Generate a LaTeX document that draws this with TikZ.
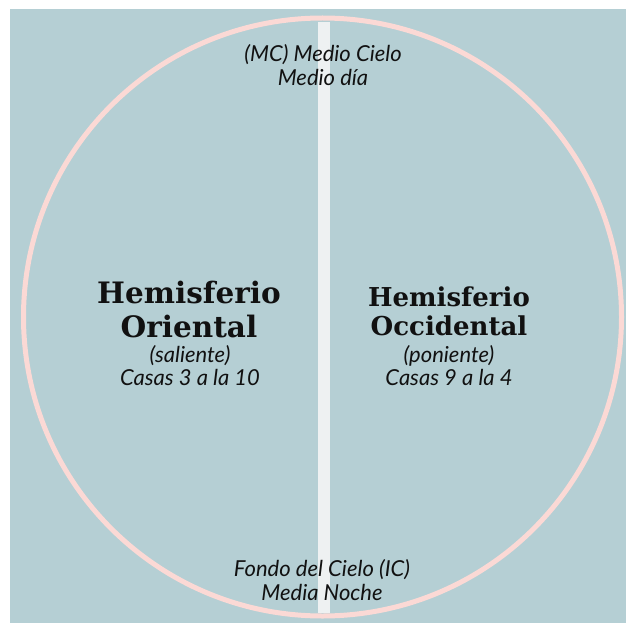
\documentclass[tikz,border=0pt]{standalone}
\usepackage{fontspec}
\setmainfont{Lato}
\newfontfamily\titlefont{DejaVu Serif}
\definecolor{bgblue}{RGB}{181,207,212}
\definecolor{ringpink}{RGB}{251,217,213}
\definecolor{barwhite}{RGB}{238,241,242}
\definecolor{ink}{RGB}{17,17,17}
\tikzset{
  itx/.style={text=ink, align=center, inner sep=0pt, font=\itshape\fontsize{22}{24}\selectfont},
  subtx/.style={text=ink, align=center, inner sep=0pt, font=\itshape\fontsize{22}{23}\selectfont},
  bigtitle/.style={text=ink, align=center, inner sep=0pt, font=\titlefont\bfseries\fontsize{29.5}{34}\selectfont},
  smalltitle/.style={text=ink, align=center, inner sep=0pt, font=\titlefont\bfseries\fontsize{26}{29}\selectfont},
}
\begin{document}
\begin{tikzpicture}[x=1pt,y=-1pt]
\useasboundingbox (0,0) rectangle (626,623);
\fill[white] (0,0) rectangle (626,623);
\fill[bgblue] (10,9) rectangle (626,623);
\draw[ringpink, line width=5pt] (322.5,317) circle[radius=299pt];
\fill[barwhite] (318,22) rectangle (330,613);
\node[itx] (mc) at (323,65) {(MC) Medio Cielo\\Medio día};
\node[itx] (ic) at (322,580) {Fondo del Cielo (IC)\\Media Noche};
\node[bigtitle] (lt) at (189,309) {Hemisferio\\Oriental};
\node[subtx] (ls) at (190,366) {(saliente)\\Casas 3 a la 10};
\node[smalltitle] (rt) at (449,311) {Hemisferio\\Occidental};
\node[subtx] (rs) at (449,366) {(poniente)\\Casas 9 a la 4};
\end{tikzpicture}
\end{document}
